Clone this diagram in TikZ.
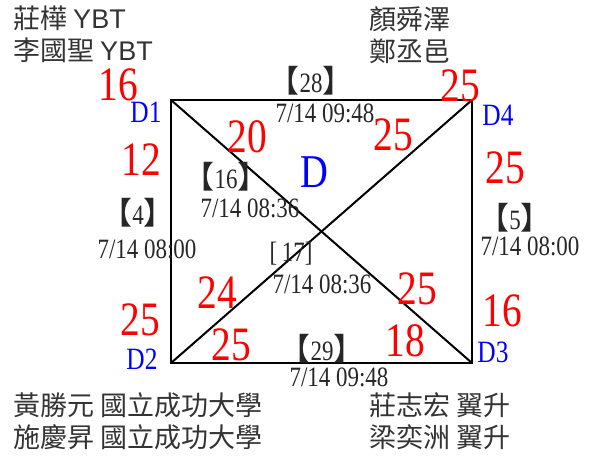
\documentclass[tikz,border=0pt]{standalone}
\usepackage{fontspec}
\newfontfamily\numfont[FakeStretch=0.82]{Liberation Serif}
\newfontfamily\cjkfont{Noto Sans CJK TC}
\newfontfamily\latinfont{Liberation Sans}
\usetikzlibrary{positioning}
\newcommand{\stampno}[1]{{\cjkfont\fontsize{31}{31}\selectfont 【}#1{\cjkfont\fontsize{31}{31}\selectfont 】}}
\tikzset{
  wt/.style={text=red, font=\numfont\fontsize{48}{48}\selectfont, inner sep=0pt},
  vtx/.style={text=blue, font=\numfont\fontsize{31}{31}\selectfont, inner sep=0pt},
  stamp/.style={text=black!85, font=\numfont\fontsize{28}{28}\selectfont, inner sep=0pt},
  member/.style={text=black!80, font=\cjkfont\fontsize{27}{27}\selectfont, anchor=west, inner sep=0pt},
  edge/.style={line width=2pt, line join=miter},
}

\begin{document}
\begin{tikzpicture}[x=1pt, y=-1pt]
  \useasboundingbox (0,0) rectangle (590,457);
  % corners of the square
  \coordinate (D1) at (171,100);
  \coordinate (D4) at (472,100);
  \coordinate (D2) at (171,363);
  \coordinate (D3) at (472,363);
  \draw[edge] (D1) -- (D4) -- (D3) -- (D2) -- cycle;
  \draw[edge] (D1) -- (D3);
  \draw[edge] (D2) -- (D4);
  % vertex names
  \node[vtx] (nD1) at (146,112) {D1};
  \node[vtx] (nD4) at (498,115) {D4};
  \node[vtx] (nD2) at (142,359) {D2};
  \node[vtx] (nD3) at (493,352) {D3};
  \node[vtx, font=\numfont\fontsize{47}{47}\selectfont] (nD) at (314,172) {D};
  % red numbers
  \foreach \x/\y/\n [count=\i] in {118/85/16, 460/86/25, 247/137/20, 393/135/25,
      141/160/12, 505/168/25, 217/293/24, 417/289/25, 140/320/25, 502/311/16,
      231/345/25, 405/341/18}
    \node[wt] (w\i) at (\x,\y) {\n};
  % edge stamps
  \node[stamp] (s28) at (311,81) {\stampno{28}};
  \node[stamp] (t28) at (325,113) {7/14 09:48};
  \node[stamp] (s16) at (226,177) {\stampno{16}};
  \node[stamp] (t16) at (250,208) {7/14 08:36};
  \node[stamp] (s4) at (138,213) {\stampno{4}};
  \node[stamp] (t4) at (147,249) {7/14 08:00};
  \node[stamp] (s17) at (291,254) {[\,17]};
  \node[stamp] (t17) at (322,284) {7/14 08:36};
  \node[stamp] (s5) at (515,218) {\stampno{5}};
  \node[stamp] (t5) at (530,246) {7/14 08:00};
  \node[stamp] (s29) at (322,349) {\stampno{29}};
  \node[stamp] (t29) at (339,377) {7/14 09:48};
  % team members
  \node[member] (m1) at (13,18) {莊樺 {\latinfont YBT}};
  \node[member] (m2) at (13,50) {李國聖 {\latinfont YBT}};
  \node[member] (m3) at (369,19) {顏舜澤};
  \node[member] (m4) at (369,51) {鄭丞邑};
  \node[member] (m5) at (13,405) {黃勝元 國立成功大學};
  \node[member] (m6) at (13,437) {施慶昇 國立成功大學};
  \node[member] (m7) at (369,405) {莊志宏 翼升};
  \node[member] (m8) at (369,437) {梁奕洲 翼升};
\end{tikzpicture}
\end{document}
